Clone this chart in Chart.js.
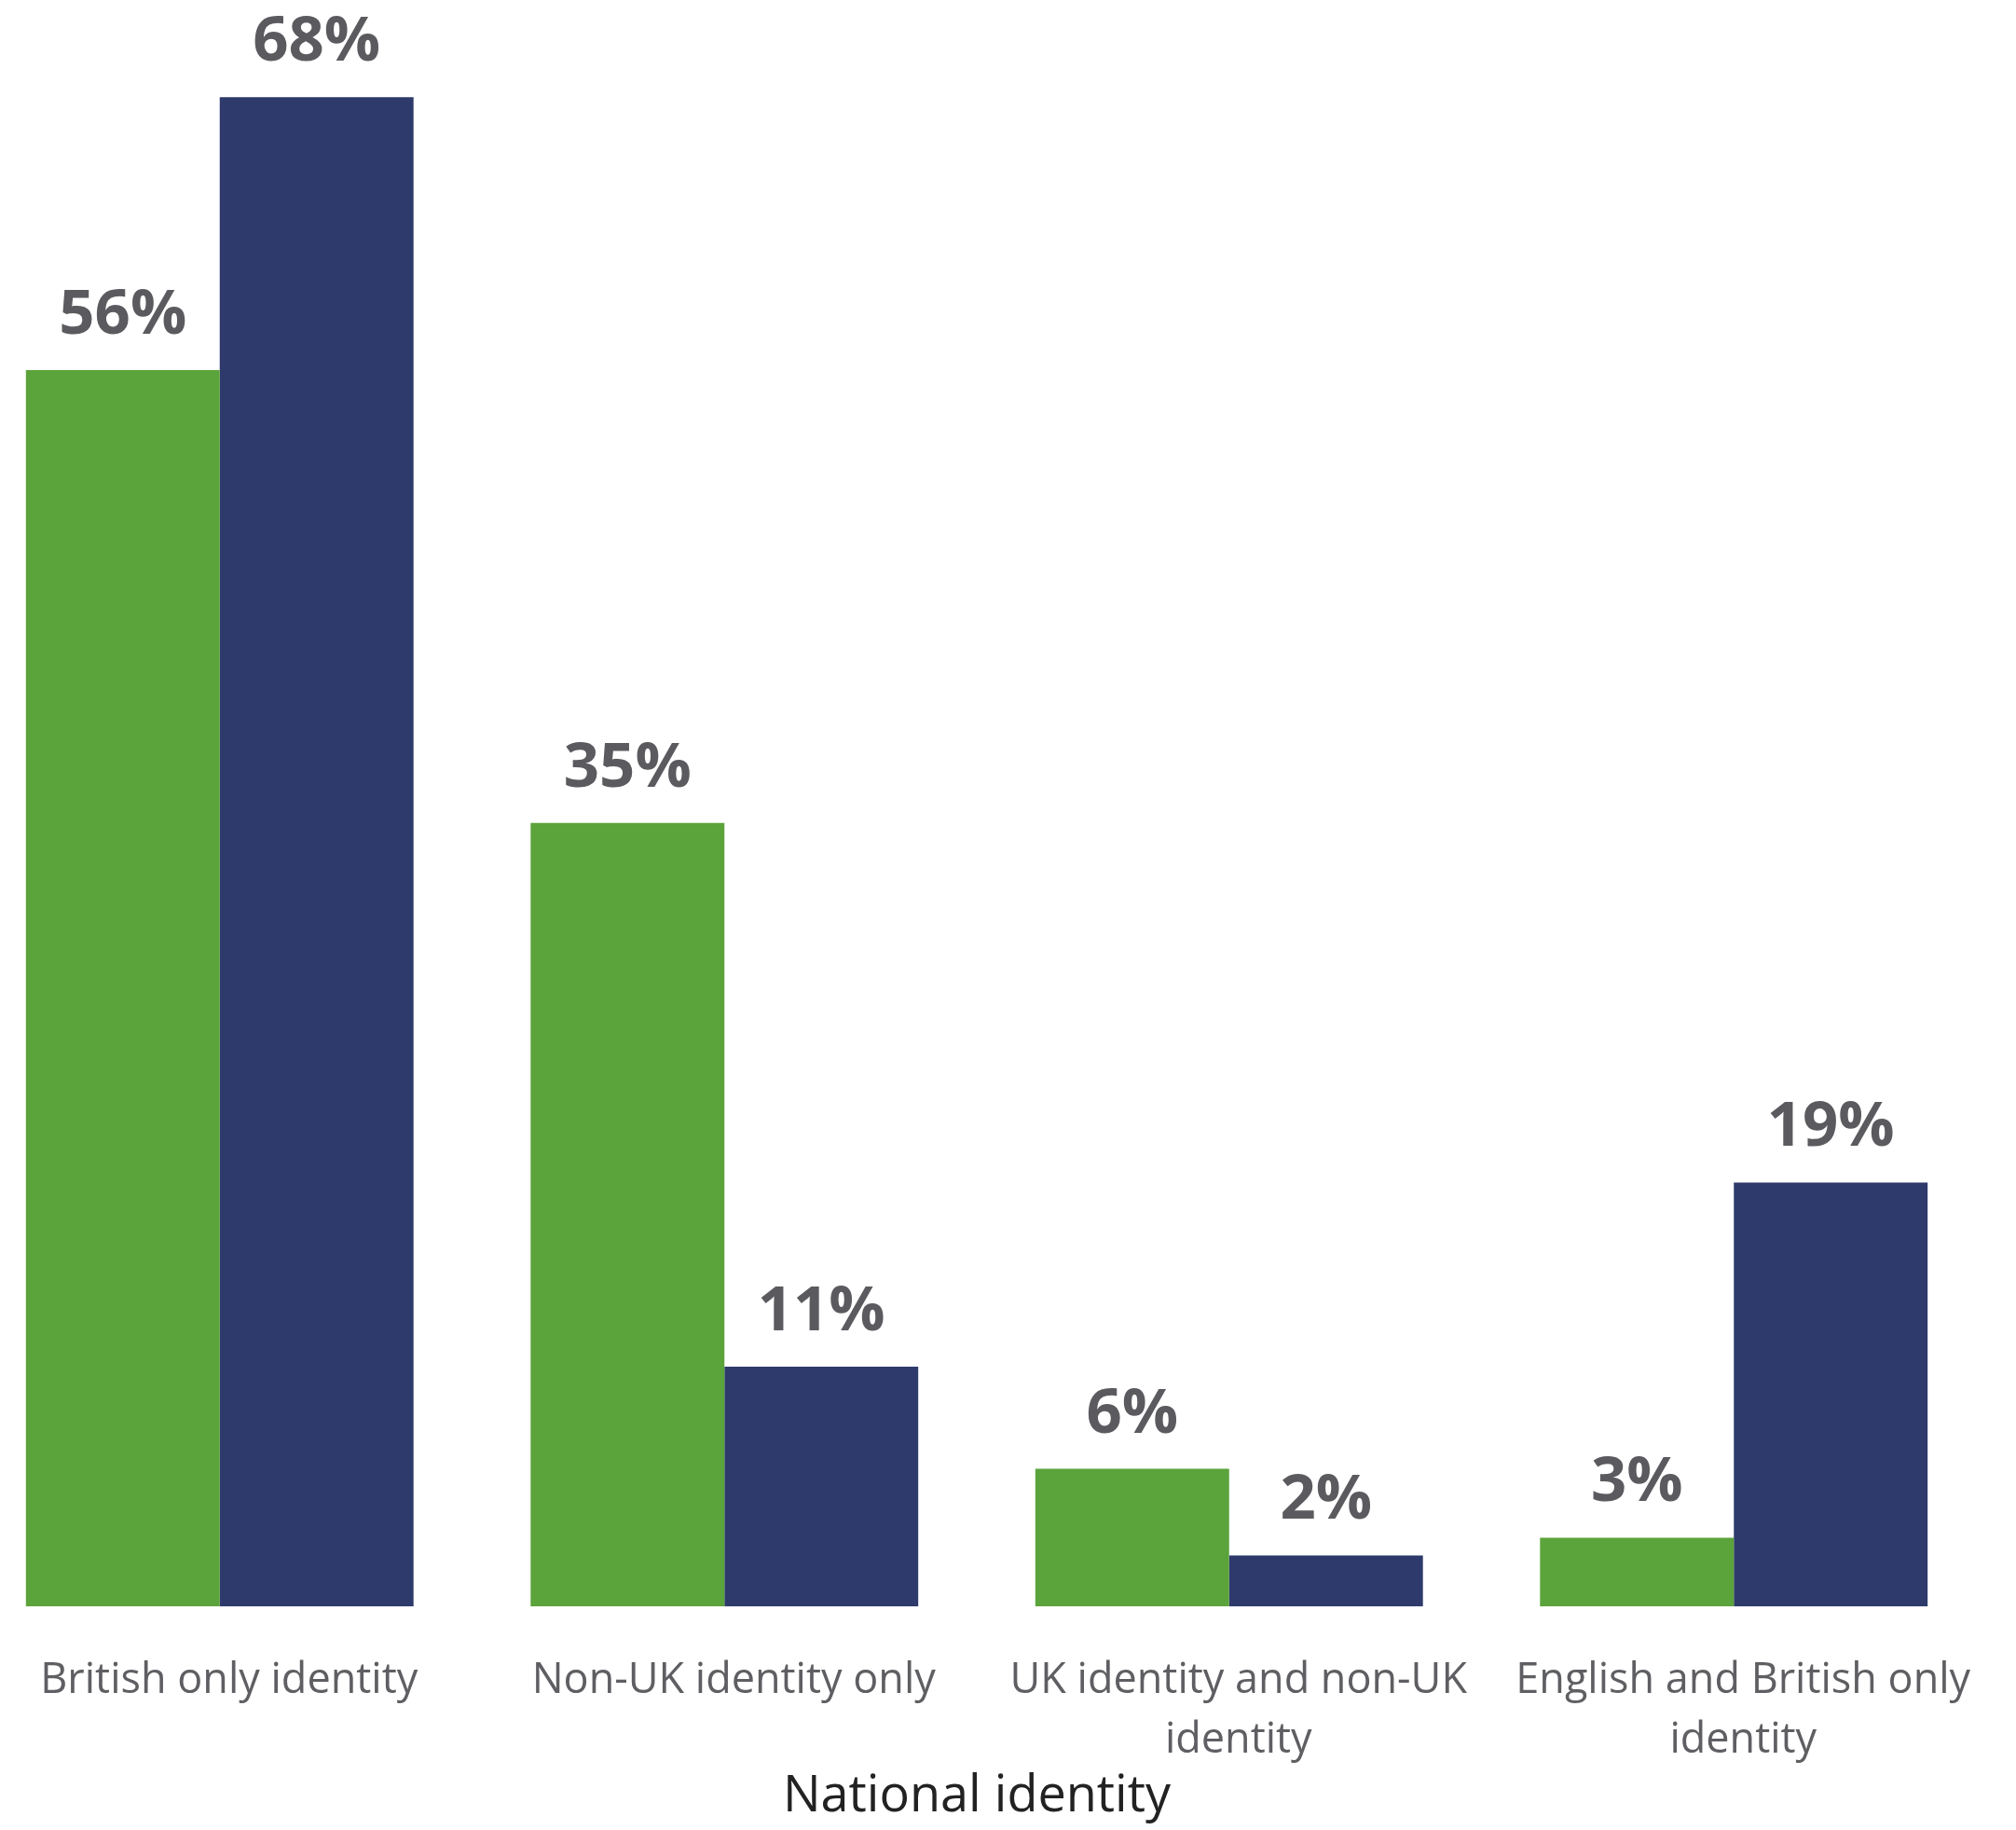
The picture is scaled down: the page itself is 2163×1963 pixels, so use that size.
<!DOCTYPE html>
<html>
<head>
<meta charset="utf-8">
<script src="https://cdn.jsdelivr.net/npm/chart.js@4/dist/chart.umd.min.js"></script>
<style>
    html, body { margin: 0; padding: 0; background: #ffffff; overflow: hidden; }
    body { width: 2163px; height: 1963px; position: relative; }
    /* the plot in the reference starts a little left of the picture edge */
    #wrap { position: absolute; left: -35px; top: 0; width: 2198px; height: 1963px; }
</style>
</head>
<body>
<div id="wrap"><canvas id="identityChart"></canvas></div>
<script>
// Category labels (multi-line where the reference wraps)
const categories = [
    ['British only identity'],
    ['Non-UK identity only'],
    ['UK identity and non-UK', 'identity'],
    ['English and British only', 'identity']
];

// Bar heights (labels show them rounded)
const greenSeries = [55.7, 35.3, 6.2, 3.1];
const navySeries = [68.0, 10.8, 2.3, 19.1];

const axisTitle = 'National identity';

document.addEventListener('DOMContentLoaded', function() {
    const ctx = document.getElementById('identityChart').getContext('2d');

    // Draw the percentage above each bar
    const valueLabels = {
        id: 'valueLabels',
        afterDatasetsDraw(chart) {
            const c = chart.ctx;
            c.save();
            c.font = 'bold 67px "Open Sans"';
            c.fillStyle = '#5b5b5f';
            c.textAlign = 'center';
            c.textBaseline = 'alphabetic';
            chart.data.datasets.forEach((ds, i) => {
                chart.getDatasetMeta(i).data.forEach((bar, j) => {
                    c.fillText(Math.round(ds.data[j]) + '%', bar.x, bar.y - 39);
                });
            });
            c.restore();
        }
    };

    new Chart(ctx, {
        type: 'bar',
        data: {
            labels: categories,
            datasets: [
                {
                    label: 'Series 1',
                    data: greenSeries,
                    backgroundColor: '#5ba33b',
                    borderWidth: 0
                },
                {
                    label: 'Series 2',
                    data: navySeries,
                    backgroundColor: '#2d3a6b',
                    borderWidth: 0
                }
            ]
        },
        options: {
            responsive: true,
            maintainAspectRatio: false,
            animation: false,
            datasets: {
                bar: { barPercentage: 1, categoryPercentage: 0.768 }
            },
            layout: {
                padding: { left: 0, right: 32, top: 9, bottom: 0 }
            },
            plugins: {
                legend: { display: false },
                tooltip: { enabled: false },
                title: {
                    display: true,
                    position: 'bottom',
                    text: axisTitle,
                    color: '#222222',
                    font: { family: '"Open Sans"', size: 54, weight: 'normal', lineHeight: 1.2 },
                    padding: { top: 0, bottom: 3 }
                }
            },
            scales: {
                x: {
                    grid: { display: false, drawTicks: false },
                    border: { display: false },
                    ticks: {
                        color: '#5f5f63',
                        font: { family: '"Open Sans"', size: 45, lineHeight: 1.444 },
                        padding: 47,
                        labelOffset: 10,
                        maxRotation: 0,
                        autoSkip: false
                    },
                    afterFit: function(scale) {
                        scale.height = 172;
                    }
                },
                y: {
                    display: false,
                    min: 0,
                    max: 72
                }
            }
        },
        plugins: [valueLabels]
    });
});
</script>
</body>
</html>
